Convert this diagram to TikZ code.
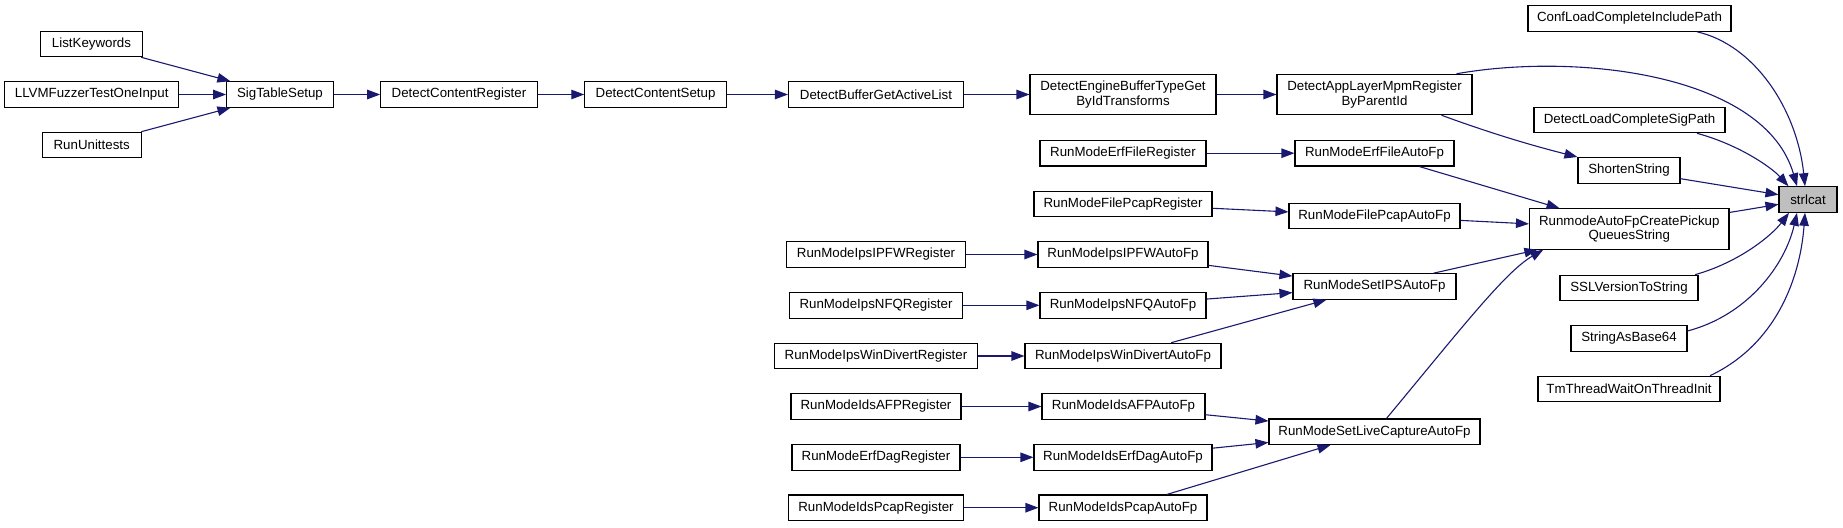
\documentclass[tikz,border=0pt]{standalone}
\usepackage{fontspec}
\setmainfont{Liberation Sans}
\usetikzlibrary{arrows.meta}
\definecolor{edgeblue}{HTML}{191970}
\definecolor{hl}{HTML}{BFBFBF}
\tikzset{
  nd/.style={draw=black, fill=white, line width=1.1pt, rectangle, inner sep=0pt,
    minimum height=25.5pt, align=center,
    font=\fontsize{13.3}{14.2}\selectfont},
  nd2/.style={nd, minimum height=40.4pt},
  ed/.style={draw=edgeblue, line width=1.1pt, -{Triangle[length=13pt,width=9.5pt]}},
}
\begin{document}
\begin{tikzpicture}[x=1pt,y=-1pt]
\useasboundingbox (0,0) rectangle (1843,527);
% rank 8
\node[nd, minimum width=101.6] (lk) at (91.5,44) {ListKeywords};
\node[nd, minimum width=174] (llvm) at (91.7,94.5) {LLVMFuzzerTestOneInput};
\node[nd, minimum width=99] (ru) at (91.7,145) {RunUnittests};
% main chain
\node[nd, minimum width=106.7] (sig) at (280,94.5) {SigTableSetup};
\node[nd, minimum width=156.5] (dcr) at (459,94.5) {DetectContentRegister};
\node[nd, minimum width=141.6] (dcs) at (655.6,94.5) {DetectContentSetup};
\node[nd, minimum width=175] (dbg) at (876,94.5) {DetectBufferGetActiveList};
\node[nd2, minimum width=186] (debt) at (1123,94.5) {DetectEngineBufferTypeGet\\ByIdTransforms};
\node[nd2, minimum width=195] (dalm) at (1374.5,94.5) {DetectAppLayerMpmRegister\\ByParentId};
% rank 1
\node[nd, minimum width=203] (conf) at (1629.5,18.5) {ConfLoadCompleteIncludePath};
\node[nd, minimum width=191] (dlsp) at (1629.5,120) {DetectLoadCompleteSigPath};
\node[nd, minimum width=102] (shorten) at (1629,170.3) {ShortenString};
\node[nd2, minimum width=199.5] (rafp) at (1629.25,229) {RunmodeAutoFpCreatePickup\\QueuesString};
\node[nd, minimum width=138] (ssl) at (1629,288) {SSLVersionToString};
\node[nd, minimum width=116] (b64) at (1629,338.5) {StringAsBase64};
\node[nd, minimum width=182] (tm) at (1629,389) {TmThreadWaitOnThreadInit};
% target
\node[nd, fill=hl, minimum width=58] (strlcat) at (1808,199.5) {strlcat};
% rank 2
\node[nd, minimum width=159] (erfa) at (1374.5,153.2) {RunModeErfFileAutoFp};
\node[nd, minimum width=171] (pcapa) at (1374.5,216) {RunModeFilePcapAutoFp};
\node[nd, minimum width=163] (ipsa) at (1374.5,286.5) {RunModeSetIPSAutoFp};
\node[nd, minimum width=211] (live) at (1374.5,431.7) {RunModeSetLiveCaptureAutoFp};
% rank 3
\node[nd, minimum width=166] (erfr) at (1123,153.2) {RunModeErfFileRegister};
\node[nd, minimum width=178] (pcapr) at (1123,204) {RunModeFilePcapRegister};
\node[nd, minimum width=170] (ipfwa) at (1123,254.5) {RunModeIpsIPFWAutoFp};
\node[nd, minimum width=166] (nfqa) at (1123,305.3) {RunModeIpsNFQAutoFp};
\node[nd, minimum width=196] (wda) at (1123,356) {RunModeIpsWinDivertAutoFp};
\node[nd, minimum width=163] (afpa) at (1123.5,406.5) {RunModeIdsAFPAutoFp};
\node[nd, minimum width=178] (edaga) at (1123,457.3) {RunModeIdsErfDagAutoFp};
\node[nd, minimum width=168] (idspa) at (1123,507.7) {RunModeIdsPcapAutoFp};
% rank 4
\node[nd, minimum width=179] (ipfwr) at (876,254.5) {RunModeIpsIPFWRegister};
\node[nd, minimum width=173.5] (nfqr) at (876,305.3) {RunModeIpsNFQRegister};
\node[nd, minimum width=203] (wdr) at (876,356) {RunModeIpsWinDivertRegister};
\node[nd, minimum width=170] (afpr) at (876,406.5) {RunModeIdsAFPRegister};
\node[nd, minimum width=168] (edagr) at (876,457.3) {RunModeErfDagRegister};
\node[nd, minimum width=175] (idspr) at (876,507.7) {RunModeIdsPcapRegister};

% edges
\draw[ed] (lk) -- (sig);
\draw[ed] (llvm) -- (sig);
\draw[ed] (ru) -- (sig);
\draw[ed] (sig) -- (dcr);
\draw[ed] (dcr) -- (dcs);
\draw[ed] (dcs) -- (dbg);
\draw[ed] (dbg) -- (debt);
\draw[ed] (debt) -- (dalm);
\draw[ed] ([xshift=-16pt]dalm.north east) .. controls (1580,52) and (1765,75) .. ([xshift=-11pt]strlcat.north);
\draw[ed] ([xshift=67pt]dalm.south) .. controls (1490,133) and (1530,145) .. (shorten.north west);
\draw[ed] ([xshift=67.5pt]conf.south) .. controls (1755,45) and (1797,110) .. ([xshift=-3pt]strlcat.north);
\draw[ed] ([xshift=67.5pt]dlsp.south) .. controls (1740,145) and (1772,168) .. ([xshift=10pt]strlcat.north west);
\draw[ed] (shorten) -- (strlcat);
\draw[ed] (rafp) -- (strlcat);
\draw[ed] ([xshift=66pt]ssl.north) .. controls (1740,262) and (1772,235) .. ([xshift=-19pt]strlcat.south);
\draw[ed] ([yshift=7.5pt]b64.east) .. controls (1748,315) and (1785,265) .. ([xshift=-11pt]strlcat.south);
\draw[ed] ([xshift=81pt]tm.north) .. controls (1775,345) and (1800,280) .. ([xshift=-3pt]strlcat.south);
\draw[ed] (erfa) -- (rafp);
\draw[ed] (pcapa) -- (rafp);
\draw[ed] (ipsa) -- (rafp);
\draw[ed] ([xshift=12pt]live.north) .. controls (1460,330) and (1505,272) .. ([xshift=-86pt]rafp.south);
\draw[ed] (erfr) -- (erfa);
\draw[ed] (pcapr) -- (pcapa);
\draw[ed] (ipfwa) -- (ipsa);
\draw[ed] (nfqa) -- (ipsa);
\draw[ed] (wda) -- (ipsa);
\draw[ed] (afpa) -- (live);
\draw[ed] (edaga) -- (live);
\draw[ed] (idspa) -- (live);
\draw[ed] (ipfwr) -- (ipfwa);
\draw[ed] (nfqr) -- (nfqa);
\draw[ed] (wdr) -- (wda);
\draw[ed] (afpr) -- (afpa);
\draw[ed] (edagr) -- (edaga);
\draw[ed] (idspr) -- (idspa);
\end{tikzpicture}
\end{document}
